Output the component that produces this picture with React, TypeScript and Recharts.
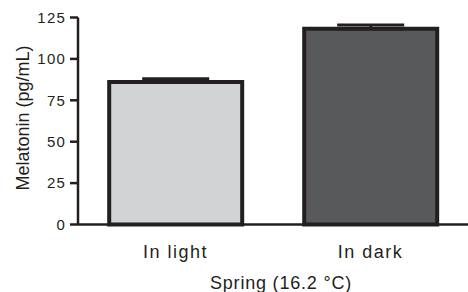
import { BarChart, Bar, Cell, XAxis, YAxis, ErrorBar } from 'recharts';

const categories = ['In light', 'In dark'];
const melatonin = [86, 118.2];
const errUp = [2, 2.3];
const fills = ['#d1d3d4', '#58595b'];
const yTicks = [0, 25, 50, 75, 100, 125];

const data = categories.map((name, i) => ({
  name,
  value: melatonin[i],
  err: [0, errUp[i]],
}));

const ink = '#231f20';
const font = '"Liberation Sans", Arial, Helvetica, sans-serif';

export default function App() {
  return (
    <div>
      <style>{'body{margin:0}'}</style>
      <BarChart
        width={468}
        height={292}
        data={data}
        margin={{ top: 17.5, right: 0, bottom: 0, left: 0 }}
        barCategoryGap="16%"
      >
        <XAxis
          dataKey="name"
          height={67.5}
          tickLine={false}
          tickSize={0}
          tickMargin={20.5}
          axisLine={{ stroke: ink, strokeWidth: 2.5 }}
          tick={{ fill: ink, fontSize: 18, fontFamily: font, letterSpacing: 1.5 }}
          label={{
            value: 'Spring (16.2 °C)',
            position: 'insideBottom',
            offset: 3,
            dx: 8,
            style: { fill: ink, fontSize: 18, fontFamily: font, letterSpacing: 0.8 },
          }}
        />
        <YAxis
          width={78}
          domain={[0, 125]}
          ticks={yTicks}
          interval={0}
          tickSize={8}
          tickMargin={4}
          axisLine={{ stroke: ink, strokeWidth: 2.5 }}
          tickLine={{ stroke: ink, strokeWidth: 2.5 }}
          tick={{ fill: ink, fontSize: 15, fontFamily: font, letterSpacing: 1.2 }}
          label={{
            value: 'Melatonin (pg/mL)',
            angle: -90,
            position: 'center',
            dx: -16,
            dy: -3,
            style: { fill: ink, fontSize: 18, fontFamily: font, textAnchor: 'middle' },
          }}
        />
        <Bar dataKey="value" stroke={ink} strokeWidth={4} isAnimationActive={false}>
          {data.map((_, i) => (
            <Cell key={i} fill={fills[i]} />
          ))}
          <ErrorBar dataKey="err" width={33.5} stroke={ink} strokeWidth={3} direction="y" />
        </Bar>
      </BarChart>
    </div>
  );
}
